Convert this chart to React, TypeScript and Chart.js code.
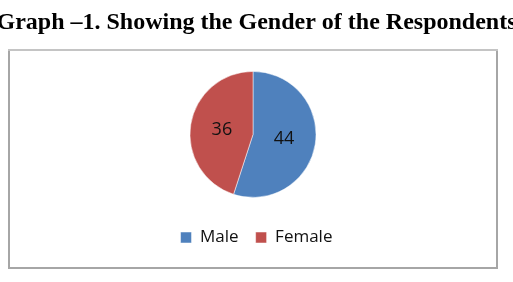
import React, { useEffect, useRef } from "react";
import { Chart, registerables } from "chart.js";

Chart.register(...registerables);

const titleText = "Graph \u20131. Showing the Gender of the Respondents";
const categories = ["Male", "Female"];
const values = [44, 36];
const colors = ["#4F81BD", "#C0504D"];

const borderPlugin = {
  id: "boxBorder",
  beforeDraw(chart: any) {
    const ctx = chart.ctx;
    ctx.save();
    ctx.fillStyle = "#ffffff";
    ctx.fillRect(0, 0, chart.width, chart.height);
    ctx.lineWidth = 2;
    ctx.strokeStyle = "#a6a6a6";
    ctx.beginPath();
    ctx.moveTo(9, 50);
    ctx.lineTo(9, 268);
    ctx.lineTo(497, 268);
    ctx.lineTo(497, 50);
    ctx.stroke();
    ctx.strokeStyle = "#c4c4c4";
    ctx.beginPath();
    ctx.moveTo(8, 50);
    ctx.lineTo(498, 50);
    ctx.stroke();
    ctx.restore();
  },
};

const shiftPlugin = {
  id: "shiftBlocks",
  afterLayout(chart: any) {
    if (chart.legend) {
      chart.legend.left += 3.5;
      chart.legend.right += 3.5;
    }
    if (chart.titleBlock) {
      chart.titleBlock.left = -20;
      chart.titleBlock.right = chart.width + 20;
    }
  },
};

const labelPlugin = {
  id: "sliceLabels",
  afterDatasetsDraw(chart: any) {
    const ctx = chart.ctx;
    const meta = chart.getDatasetMeta(0);
    ctx.save();
    ctx.font = "18px 'Open Sans'";
    ctx.fillStyle = "#111111";
    ctx.textAlign = "center";
    ctx.textBaseline = "middle";
    meta.data.forEach((arc: any, i: number) => {
      const p = arc.getCenterPoint();
      ctx.fillText(String(chart.data.datasets[0].data[i]), p.x, p.y);
    });
    ctx.restore();
  },
};

export default function App() {
  const ref = useRef<HTMLCanvasElement>(null);
  useEffect(() => {
    if (!ref.current) return;
    const chart = new Chart(ref.current, {
      type: "pie",
      data: {
        labels: categories,
        datasets: [
          {
            data: values,
            backgroundColor: colors,
            borderColor: "#ffffff",
            borderWidth: 0.5,
            radius: 63,
          },
        ],
      },
      options: {
        responsive: false,
        animation: false,
        layout: { padding: { left: 0, right: 7, top: 0, bottom: 26 } },
        plugins: {
          title: {
            display: true,
            text: titleText,
            color: "#000000",
            font: { family: "'Liberation Serif'", size: 24, weight: "bold" },
            padding: { top: 8, bottom: 20 },
          },
          legend: {
            position: "bottom",
            labels: {
              boxWidth: 11,
              boxHeight: 11,
              padding: 17,
              color: "#111111",
              font: { family: "'Open Sans'", size: 17 },
            },
          },
          tooltip: { enabled: false },
        },
      },
      plugins: [borderPlugin, shiftPlugin, labelPlugin],
    });
    return () => chart.destroy();
  }, []);
  return (
    <div style={{ position: "fixed", left: 0, top: 0, width: 513, height: 282 }}>
      <canvas ref={ref} width={513} height={282} />
    </div>
  );
}
